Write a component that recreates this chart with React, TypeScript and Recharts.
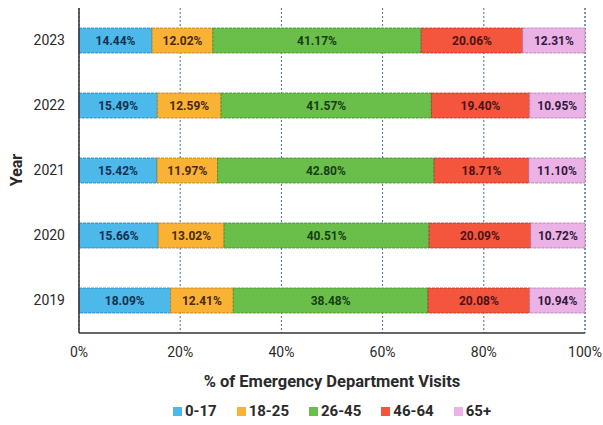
import React from 'react';
import { BarChart, Bar, XAxis, YAxis, CartesianGrid, Legend, LabelList } from 'recharts';

const years = ['2023', '2022', '2021', '2020', '2019'];
const age0to17 = [14.44, 15.49, 15.42, 15.66, 18.09];
const age18to25 = [12.02, 12.59, 11.97, 13.02, 12.41];
const age26to45 = [41.17, 41.57, 42.8, 40.51, 38.48];
const age46to64 = [20.06, 19.4, 18.71, 20.09, 20.08];
const age65plus = [12.31, 10.95, 11.1, 10.72, 10.94];
const xTicks = [0, 20, 40, 60, 80, 100];

const FONT = 'Roboto, "Liberation Sans", sans-serif';

const series = [
  { key: 'a', name: '0-17', values: age0to17, fill: '#4db8ea', stroke: '#2a7fae', text: '#13314f' },
  { key: 'b', name: '18-25', values: age18to25, fill: '#f9b233', stroke: '#b47a1a', text: '#4a2a0c' },
  { key: 'c', name: '26-45', values: age26to45, fill: '#6abf4b', stroke: '#3f8a2c', text: '#173d14' },
  { key: 'd', name: '46-64', values: age46to64, fill: '#f4553d', stroke: '#b0302a', text: '#4e1216' },
  { key: 'e', name: '65+', values: age65plus, fill: '#ebb2e6', stroke: '#b07aac', text: '#2f1a3c' },
];

const data = years.map((year, i) => {
  const row: Record<string, any> = { year };
  series.forEach((s) => {
    row[s.key] = s.values[i];
  });
  return row;
});

const LegendContent = () => (
  <div
    style={{
      marginLeft: 79,
      width: 506,
      display: 'flex',
      justifyContent: 'center',
      alignItems: 'center',
      gap: 20,
      fontFamily: FONT,
      fontWeight: 700,
      fontSize: 15,
      color: '#2a2a2a',
      height: 24,
    }}
  >
    {series.map((s) => (
      <div key={s.key} style={{ display: 'flex', alignItems: 'center' }}>
        <span style={{ width: 9, height: 9, background: s.fill, marginRight: 3, display: 'inline-block' }} />
        <span>{s.name}</span>
      </div>
    ))}
  </div>
);

export default function App() {
  return (
    <div style={{ position: 'absolute', left: 0, top: 0, width: 603, height: 425, background: '#fff' }}>
      <BarChart
        width={603}
        height={425}
        data={data}
        layout="vertical"
        margin={{ top: 8, right: 18, bottom: 2, left: 0 }}
        barSize={25}
      >
        <CartesianGrid horizontal={false} vertical stroke="#4f6f92" strokeDasharray="2 2" />
        <XAxis
          type="number"
          domain={[0, 100]}
          ticks={xTicks}
          tickFormatter={(v) => `${v}%`}
          height={66}
          tickLine={false}
          tickSize={6}
          tickMargin={8}
          axisLine={{ stroke: '#333', strokeWidth: 1.5 }}
          tick={{ fill: '#2a2a2a', fontSize: 14, fontFamily: FONT }}
          label={{
            value: '% of Emergency Department Visits',
            position: 'insideBottom',
            offset: 12,
            fill: '#2a2a2a',
            fontSize: 16.5,
            fontWeight: 700,
            fontFamily: FONT,
          }}
        />
        <YAxis
          type="category"
          dataKey="year"
          width={79}
          tickLine={false}
          tickSize={6}
          tickMargin={8}
          axisLine={{ stroke: '#333', strokeWidth: 1.5 }}
          tick={{ fill: '#2a2a2a', fontSize: 14, fontFamily: FONT }}
          label={{
            content: () => (
              <text
                x={16}
                y={170}
                transform="rotate(-90 16 170)"
                textAnchor="middle"
                dominantBaseline="central"
                fill="#2a2a2a"
                fontSize={16}
                fontWeight={700}
                fontFamily={FONT}
              >
                Year
              </text>
            ),
          }}
        />
        <Legend verticalAlign="bottom" height={24} content={<LegendContent />} />
        {series.map((s) => (
          <Bar
            key={s.key}
            dataKey={s.key}
            name={s.name}
            stackId="age"
            fill={s.fill}
            stroke={s.stroke}
            strokeWidth={0.8}
            strokeDasharray="3 1"
            isAnimationActive={false}
          >
            <LabelList
              dataKey={s.key}
              position="center"
              formatter={(v: any) => `${Number(v).toFixed(2)}%`}
              fill={s.text}
              fontSize={12}
              fontWeight={700}
              fontFamily={FONT}
            />
          </Bar>
        ))}
      </BarChart>
    </div>
  );
}
